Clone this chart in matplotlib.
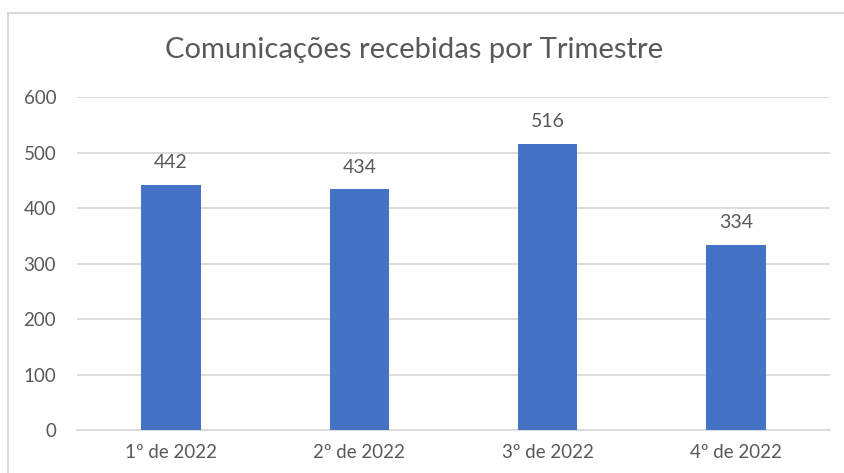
import matplotlib
matplotlib.use("Agg")
import matplotlib.pyplot as plt
from matplotlib.patches import Rectangle

categories = ["1º de 2022", "2º de 2022", "3º de 2022", "4º de 2022"]
values = [442, 434, 516, 334]
yticks = [0, 100, 200, 300, 400, 500, 600]
title = "Comunicações recebidas por Trimestre"

W, H = 845, 473
fig = plt.figure(figsize=(W / 100, H / 100), dpi=100)
plt.rcParams['font.family'] = ['Lato', 'DejaVu Sans']
txt = '#595959'

# chart border
fig.patches.append(Rectangle((8.5 / W, -0.1), 2.0, (H - 13.5) / H + 0.1,
                             transform=fig.transFigure, fill=False,
                             edgecolor='#D9D9D9', linewidth=1.5))

ax = fig.add_axes([77 / W, (H - 430) / H, (830 - 77) / W, (430 - 97.5) / H])
x = range(len(categories))
bars = ax.bar(x, values, width=0.315, color='#4472C4', zorder=3)
ax.set_xlim(-0.5, len(categories) - 0.5)
ax.set_ylim(0, 600)
ax.set_yticks(yticks)
ax.set_xticks(list(x))
ax.set_xticklabels(categories)
ax.yaxis.grid(True, color='#D9D9D9', linewidth=1.3, zorder=0)
for s in ['top', 'right', 'left']:
    ax.spines[s].set_visible(False)
ax.spines['bottom'].set_color('#D9D9D9')
ax.spines['bottom'].set_linewidth(1.3)
ax.tick_params(axis='both', length=0, labelcolor=txt, labelsize=13.5)
ax.tick_params(axis='y', pad=15)
ax.tick_params(axis='x', pad=10)

for b, v in zip(bars, values):
    ax.annotate(str(v), (b.get_x() + b.get_width() / 2, v), xytext=(0, 10),
                textcoords='offset points', ha='center', va='bottom',
                color=txt, fontsize=14)

fig.text(414 / W, 1 - 50 / H, title, ha='center', va='center',
         color=txt, fontsize=21)

fig.savefig("out.png", dpi=100)
